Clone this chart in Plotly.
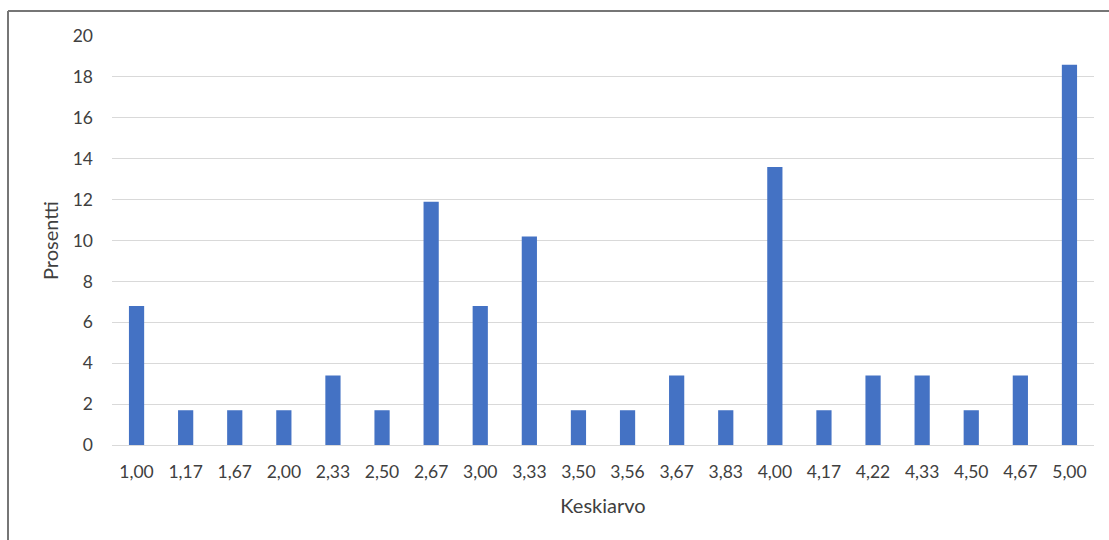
import plotly.graph_objects as go

# Mean score categories (Finnish decimal comma) and share of respondents (%)
keskiarvot = ["1,00", "1,17", "1,67", "2,00", "2,33", "2,50", "2,67", "3,00", "3,33", "3,50",
              "3,56", "3,67", "3,83", "4,00", "4,17", "4,22", "4,33", "4,50", "4,67", "5,00"]
prosentit = [6.8, 1.7, 1.7, 1.7, 3.4, 1.7, 11.9, 6.8, 10.2, 1.7,
             1.7, 3.4, 1.7, 13.6, 1.7, 3.4, 3.4, 1.7, 3.4, 18.6]
y_ticks = [0, 2, 4, 6, 8, 10, 12, 14, 16, 18, 20]

W, H = 1109, 540
ML, MR, MT, MB = 112, 15, 36, 95
pw, ph = W - ML - MR, H - MT - MB

fig = go.Figure(go.Bar(
    x=keskiarvot, y=prosentit,
    marker=dict(color="#4472C4", line=dict(width=0)),
    hoverinfo="x+y",
))

font = "Lato, 'Open Sans', sans-serif"
fig.update_layout(
    width=W, height=H,
    margin=dict(l=ML, r=MR, t=MT, b=MB),
    paper_bgcolor="white", plot_bgcolor="white",
    bargap=0.69,
    showlegend=False,
    font=dict(family=font, size=17, color="#404040"),
    xaxis=dict(
        type="category",
        showgrid=False,
        showline=False,
        ticks="",
        tickfont=dict(size=17.5, color="#404040"),
        ticklabelstandoff=14,
        title=dict(text="Keskiarvo", font=dict(size=20, color="#404040"), standoff=18),
    ),
    yaxis=dict(
        range=[0, 20],
        tickvals=y_ticks,
        showgrid=True, gridcolor="#D9D9D9", gridwidth=1,
        zeroline=True, zerolinecolor="#D9D9D9", zerolinewidth=1,
        showline=False, ticks="",
        tickfont=dict(size=17.5, color="#404040"),
        ticklabelstandoff=18,
        title=dict(text="Prosentti", font=dict(size=20, color="#404040"), standoff=8),
    ),
)

# Chart frame (left and top edges)
x_left = (8 - ML) / pw
y_top = 1 + (MT - 11) / ph
fig.add_shape(type="line", xref="paper", yref="paper",
              x0=x_left, x1=x_left, y0=y_top, y1=-(H - MT - ph) / ph - 0.01,
              line=dict(color="#767676", width=2))
fig.add_shape(type="line", xref="paper", yref="paper",
              x0=x_left, x1=1 + MR / pw + 0.01, y0=y_top, y1=y_top,
              line=dict(color="#767676", width=2))

fig.write_html("out.html")
